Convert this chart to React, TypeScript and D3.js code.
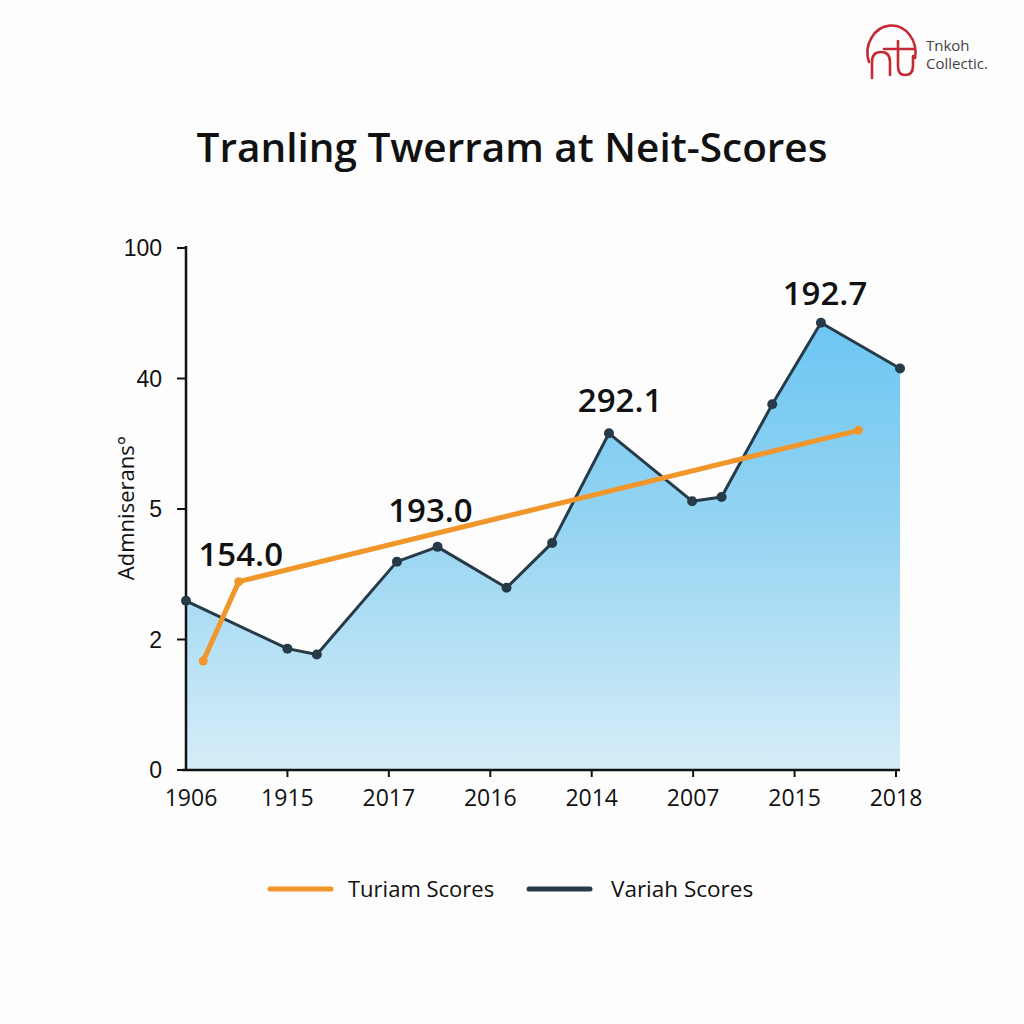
import React from 'react';
import * as d3 from 'd3';

const xLabels = ['1906', '1915', '2017', '2016', '2014', '2007', '2015', '2018'];
const yTicks = [0, 2, 5, 40, 100];

// Variah Scores (x in category-position units, y in axis units)
const variahX = [0, 1.0, 1.29, 2.08, 2.48, 3.16, 3.61, 4.17, 4.99, 5.28, 5.78, 6.26, 7.04];
const variahY = [2.89, 1.86, 1.77, 3.79, 4.13, 3.19, 4.22, 25.3, 7.1, 8.2, 33.1, 65.6, 44.6];

// Turiam Scores
const turiamX = [0.17, 0.52, 6.63];
const turiamY = [1.67, 3.33, 26.1];

// Value labels
const labelText = ['154.0', '193.0', '292.1', '192.7'];
const labelX = [0.54, 2.41, 4.28, 6.3];
const labelY = [3.69, 4.7, 30.9, 73.9];

const seriesNames = ['Turiam Scores', 'Variah Scores'];
const seriesColors = ['#f0962a', '#263b47'];

export default function App() {
  const W = 1024, H = 1024;
  const left = 186, right = 896, bottom = 770, top = 248;
  const x = d3.scaleLinear().domain([0, xLabels.length - 1]).range([left, right]);
  const y = d3.scaleLinear().domain(yTicks).range(yTicks.map((_, i) => bottom - i * (bottom - top) / (yTicks.length - 1)));

  const variah = variahX.map((v, i) => [v, variahY[i]] as [number, number]);
  const turiam = turiamX.map((v, i) => [v, turiamY[i]] as [number, number]);

  const line = d3.line<[number, number]>().x(d => x(d[0])).y(d => y(d[1]));
  const area = d3.area<[number, number]>().x(d => x(d[0])).y0(y(0)).y1(d => y(d[1]));

  const font = "'Open Sans', 'Liberation Sans', sans-serif";

  return (
    <svg width={W} height={H} style={{ position: 'absolute', left: 0, top: 0, background: '#fdfdfd' }} fontFamily={font}>
      <defs>
        <linearGradient id="areaGrad" x1="0" y1="0" x2="0" y2="1" gradientUnits="objectBoundingBox">
          <stop offset="0%" stopColor="#6cc6f2" />
          <stop offset="45%" stopColor="#95d4f2" />
          <stop offset="100%" stopColor="#d6edf8" />
        </linearGradient>
      </defs>
      <rect width={W} height={H} fill="#fdfdfd" />

      {/* logo */}
      <g fill="none" stroke="#c42a36" strokeWidth={2.6} strokeLinecap="round">
        <path d="M869,62 A24,27 0 1 1 915,58" />
        <path d="M872,78 L872,62 Q872,52 881,52 Q890,52 890,62 L890,75" />
        <path d="M898,41 L898,66 Q898,75 905,75 Q913,75 913,66 L913,56" />
        <path d="M884,49 L915,49" />
      </g>
      <text x={926} y={51} fontSize={15} fill="#444" fontFamily={font}>Tnkoh</text>
      <text x={926} y={69} fontSize={15} fill="#444" fontFamily={font}>Collectic.</text>

      {/* title */}
      <text x={512} y={162} textAnchor="middle" fontSize={40.5} fontWeight={600} fill="#111">
        Tranling Twerram at Neit-Scores
      </text>

      {/* area */}
      <path d={area(variah) || ''} fill="url(#areaGrad)" />

      {/* axes */}
      <line x1={left} x2={left} y1={top - 2} y2={bottom + 1} stroke="#111" strokeWidth={2.5} />
      <line x1={left - 4} x2={900} y1={bottom} y2={bottom} stroke="#111" strokeWidth={2.5} />
      {yTicks.map((t, i) => (
        <g key={'y' + i}>
          <line x1={left - 9} x2={left} y1={y(t)} y2={y(t)} stroke="#111" strokeWidth={2} />
          <text x={162} y={y(t) + 8} textAnchor="end" fontSize={23} fill="#111" fontFamily="'Liberation Sans', Arial, sans-serif">{t}</text>
        </g>
      ))}
      {xLabels.map((l, i) => (
        <g key={'x' + i}>
          {i > 0 && <line x1={x(i)} x2={x(i)} y1={bottom} y2={bottom + 7} stroke="#111" strokeWidth={2} />}
          <text x={x(i) + (i === 0 ? 5 : 0)} y={806} textAnchor="middle" fontSize={23} fill="#111">{l}</text>
        </g>
      ))}
      <text transform={`translate(134,508) rotate(-90)`} textAnchor="middle" fontSize={22} fill="#111">Admniserans°</text>

      {/* lines */}
      <path d={line(variah) || ''} fill="none" stroke={seriesColors[1]} strokeWidth={3} strokeLinejoin="round" />
      {variah.map((d, i) => (
        <circle key={'v' + i} cx={x(d[0])} cy={y(d[1])} r={5} fill={seriesColors[1]} />
      ))}
      <path d={line(turiam) || ''} fill="none" stroke={seriesColors[0]} strokeWidth={5} strokeLinejoin="round" strokeLinecap="round" />
      {turiam.map((d, i) => (
        <circle key={'t' + i} cx={x(d[0])} cy={y(d[1])} r={4.5} fill={seriesColors[0]} />
      ))}

      {/* value labels */}
      {labelText.map((t, i) => (
        <text key={'l' + i} x={x(labelX[i])} y={y(labelY[i])} textAnchor="middle" fontSize={33} fontWeight={600} fill="#111">{t}</text>
      ))}

      {/* legend */}
      <line x1={270} x2={331} y1={889} y2={889} stroke={seriesColors[0]} strokeWidth={5} strokeLinecap="round" />
      <text x={348} y={897} fontSize={22} fill="#111">{seriesNames[0]}</text>
      <line x1={529} x2={590} y1={889} y2={889} stroke={seriesColors[1]} strokeWidth={5} strokeLinecap="round" />
      <text x={611} y={897} fontSize={22.5} fill="#111">{seriesNames[1]}</text>
    </svg>
  );
}
